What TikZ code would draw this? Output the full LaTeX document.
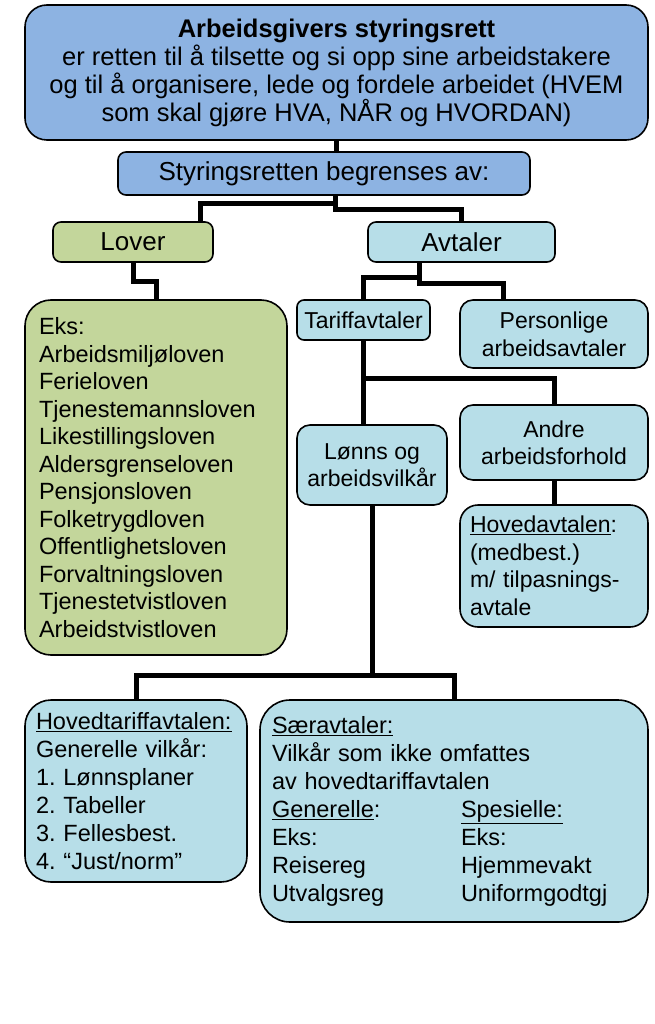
\documentclass[tikz,border=0pt]{standalone}
\usepackage{fontspec}
\setmainfont{Liberation Sans}
\usetikzlibrary{positioning}
\definecolor{cblue}{HTML}{8DB3E2}
\definecolor{cgreen}{HTML}{C3D69B}
\definecolor{clight}{HTML}{B7DEE8}
\tikzset{
 box/.style={draw=black, line width=1.6pt, rounded corners=13pt, inner sep=0pt, align=center},
 lbox/.style={draw=black, line width=1.6pt, rounded corners=26pt, inner sep=11pt, align=left},
 conn/.style={draw=black, line width=5pt},
}
\frenchspacing
\begin{document}
\begin{tikzpicture}[x=1pt,y=-1pt]
\useasboundingbox (0,0) rectangle (654,1024);
\node[box, fill=cblue, rounded corners=22pt, minimum width=623pt, minimum height=135pt, font=\fontsize{25.5}{28}\selectfont] (top) at (336.5,72.5)
 {\textbf{Arbeidsgivers styringsrett}\\er retten til å tilsette og si opp sine arbeidstakere\\og til å organisere, lede og fordele arbeidet (HVEM\\som skal gjøre HVA, NÅR og HVORDAN)};
\node[box, fill=cblue, rounded corners=8pt, minimum width=412pt, minimum height=43pt, font=\fontsize{26}{28}\selectfont] (styr) at (324,173.5) {Styringsretten begrenses av:};
\node[box, fill=cgreen, rounded corners=8pt, minimum width=160pt, minimum height=40pt, font=\fontsize{26}{28}\selectfont] (lover) at (133,242) {Lover};
\node[box, fill=clight, rounded corners=8pt, minimum width=187pt, minimum height=40pt, font=\fontsize{26}{28}\selectfont] (avtaler) at (461.5,242) {Avtaler};
\node[lbox, fill=cgreen, inner sep=14pt, minimum width=262pt, minimum height=355pt, text width=234pt, font=\fontsize{23.5}{27.5}\selectfont] (eks) at (156,477.5)
 {Eks:\\Arbeidsmiljøloven\\Ferieloven\\Tjenestemannsloven\\Likestillingsloven\\Aldersgrenseloven\\Pensjonsloven\\Folketrygdloven\\Offentlighetsloven\\Forvaltningsloven\\Tjenestetvistloven\\Arbeidstvistloven};
\node[box, fill=clight, rounded corners=7pt, minimum width=133pt, minimum height=40pt, font=\fontsize{23}{26}\selectfont] (tariff) at (363.5,320) {Tariffavtaler};
\node[box, fill=clight, rounded corners=13pt, minimum width=188pt, minimum height=68pt, font=\fontsize{23}{28}\selectfont] (pers) at (554,334) {Personlige\\arbeidsavtaler};
\node[box, fill=clight, rounded corners=13pt, minimum width=150pt, minimum height=80pt, font=\fontsize{23}{27}\selectfont] (lonn) at (372,465) {Lønns og\\arbeidsvilkår};
\node[box, fill=clight, rounded corners=13pt, minimum width=188pt, minimum height=75pt, font=\fontsize{23}{27}\selectfont] (andre) at (554,442.5) {Andre\\arbeidsforhold};
\node[lbox, fill=clight, rounded corners=18pt, inner sep=10pt, minimum width=188pt, minimum height=122pt, text width=168pt, font=\fontsize{23}{27.5}\selectfont] (hoveda) at (554,566)
 {\underline{Hovedavtalen}:\\(medbest.)\\m/ tilpasnings-\\avtale};
\node[lbox, fill=clight, minimum width=222pt, minimum height=182pt, text width=200pt, font=\fontsize{23.5}{28}\selectfont] (hovedt) at (136,791)
 {\underline{Hovedtariffavtalen:}\\Generelle vilkår:\\1. Lønnsplaner\\2. Tabeller\\3. Fellesbest.\\4. “Just/norm”};
\node[lbox, fill=clight, rounded corners=30pt, inner sep=12pt, minimum width=388pt, minimum height=222pt, text width=364pt, font=\fontsize{23.5}{28}\selectfont] (saer) at (454,811)
 {\underline{Særavtaler:}\\Vilkår som ikke omfattes\\av hovedtariffavtalen\\\makebox[189pt][l]{\underline{Generelle}:}\underline{Spesielle:}\\\makebox[189pt][l]{Eks:}Eks:\\\makebox[189pt][l]{Reisereg}Hjemmevakt\\\makebox[189pt][l]{Utvalgsreg}Uniformgodtgj};
\draw[conn] (top.south) -- (top.south |- styr.north);
\draw[conn] ([xshift=11pt]styr.south) -- ++(0,8) -| ([xshift=67pt]lover.north);
\draw[conn] ([xshift=11pt]styr.south) -- ++(0,14) -| (avtaler.north);
\draw[conn] (lover.south) -- ++(0,19) -| (eks.north);
\draw[conn] ([xshift=-42pt]avtaler.south) -- ++(0,15) -| (tariff.north);
\draw[conn] ([xshift=-42pt]avtaler.south) -- ++(0,21) -| ([xshift=-51pt]pers.north);
\draw[conn] (tariff.south) -- ++(0,38) -| (andre.north);
\draw[conn] (tariff.south) -- ([xshift=-8.5pt]lonn.north);
\draw[conn] (andre.south) -- (hoveda.north);
\draw[conn] (lonn.south) -- ++(0,170) -| (hovedt.north);
\draw[conn] (lonn.south) -- ++(0,170) -| (saer.north);
\end{tikzpicture}
\end{document}
